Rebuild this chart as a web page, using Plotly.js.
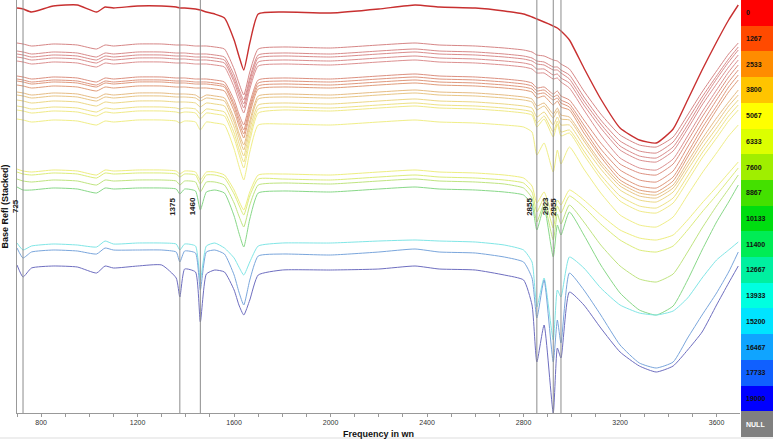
<!DOCTYPE html>
<html>
<head>
<meta charset="utf-8">
<script src="https://cdn.plot.ly/plotly-3.0.1.min.js"></script>
<style>body{margin:0;background:#fff}</style>
</head>
<body>
<div id="plotArea" style="width:773px;height:439px"></div>
<script>
// wavenumbers where the spectra were read
var wn = [700,725,760,850,950,1030,1065,1100,1200,1300,1360,1375,1395,1440,1460,1485,1520,1560,1600,1620,1640,1665,1700,1800,2000,2200,2350,2450,2600,2720,2800,2835,2855,2885,2923,2940,2955,2990,3050,3120,3200,3280,3350,3420,3480,3540,3600,3650,3690];

var s0 = [8,9,12,6,5,12,7,8,6,6,7,8,8,9,10,12,14,18,40,56,70,43,14,12,13,9,5,7,8,11,14,17,19,22,26,28,31,40,68,99,128,140,143,129,100,70,42,20,5];
var s1 = [43,44,46,44,45,49,45,46,44,44,45,45,45,46,46,46,47,49,69,83,95,72,49,47,48,45,43,45,46,48,50,52,55,56,60,61,64,69,91,114,135,145,147,137,115,92,71,54,43];
var s2 = [51,52,54,52,53,57,53,54,52,52,53,53,53,54,54,54,55,57,75,89,100,78,55,53,54,51,49,51,52,54,56,58,61,62,67,67,70,75,97,120,141,151,153,142,120,97,76,59,47];
var s3 = [54,55,57,55,56,60,56,57,55,55,56,56,56,57,57,57,58,60,79,92,104,81,58,56,57,54,52,54,55,57,59,61,64,65,70,70,73,79,101,124,146,156,158,147,125,101,79,62,50];
var s4 = [57,58,60,58,59,63,59,60,58,58,59,59,59,60,60,60,61,63,82,96,108,85,62,60,61,58,56,58,59,61,63,65,69,69,75,74,78,83,105,128,150,160,162,151,129,105,84,67,55];
var s5 = [61,62,64,62,63,67,63,64,62,62,63,63,63,64,64,64,65,67,87,101,113,89,66,64,65,62,60,62,63,65,67,69,73,73,79,78,82,88,110,135,158,168,170,159,136,112,90,72,60];
var s6 = [76,77,79,77,78,82,78,79,77,77,78,78,78,79,79,79,80,82,100,114,125,103,80,78,79,76,74,76,77,79,81,83,88,87,94,91,96,100,120,143,164,173,175,164,141,117,95,77,65];
var s7 = [79,80,82,80,81,85,81,82,80,80,81,81,81,82,82,82,83,85,104,118,130,107,83,81,82,79,77,79,80,82,84,86,91,90,97,95,100,104,125,149,170,180,182,171,147,123,100,82,70];
var s8 = [81,82,84,82,83,87,83,84,82,82,83,83,83,84,84,84,85,87,107,122,134,110,86,84,85,82,80,82,83,85,87,89,94,93,100,98,103,107,129,154,176,186,188,177,153,128,106,87,75];
var s9 = [85,86,88,86,87,91,87,88,86,86,87,87,87,88,88,88,89,91,111,126,138,114,89,87,88,85,83,85,86,88,90,92,98,96,105,101,107,110,133,157,180,190,192,181,157,133,110,92,80];
var s10 = [92,93,95,93,94,98,94,95,93,93,94,94,94,95,98,95,96,98,118,133,145,121,96,94,95,92,90,92,93,95,97,99,106,103,114,108,115,117,138,162,183,193,195,185,162,139,118,102,90];
var s11 = [95,96,98,96,97,101,97,98,96,96,97,97,97,98,101,98,99,101,122,137,150,125,99,97,98,95,93,95,96,98,100,102,110,106,118,111,119,120,141,165,186,196,198,188,166,143,123,106,95];
var s12 = [100,101,103,101,102,106,102,103,101,101,102,102,102,103,107,103,104,106,127,143,156,130,105,103,104,101,99,101,102,104,106,108,117,112,125,117,125,125,146,169,190,200,202,192,170,148,128,111,100];
var s13 = [106,107,109,107,108,112,108,109,107,107,108,109,108,109,114,109,110,112,133,149,162,136,109,107,108,105,103,105,106,108,110,112,123,116,132,121,132,130,151,175,196,206,208,198,176,153,133,116,105];
var s14 = [110,111,113,111,112,116,112,113,111,111,112,113,112,113,119,113,114,116,138,154,168,141,113,110,111,108,106,108,109,111,113,115,127,119,137,124,136,133,155,179,201,211,213,203,181,158,138,121,110];
var s15 = [119,120,122,120,121,125,121,122,120,120,121,123,121,122,130,122,123,125,149,166,180,152,125,124,125,122,120,122,123,125,127,132,155,143,172,150,164,147,169,193,215,225,227,217,195,173,153,136,125];
var s16 = [169,171,172,170,171,175,170,171,170,170,171,174,171,172,180,172,172,175,190,201,210,192,175,174,175,172,170,172,173,175,178,186,203,192,218,200,205,190,200,215,230,238,240,235,220,203,187,173,162];
var s17 = [172,174,175,173,174,178,173,174,173,173,174,177,174,175,184,175,175,178,194,205,215,196,179,179,180,177,175,177,178,180,183,192,212,198,228,206,213,196,207,224,240,250,252,246,230,212,195,180,168];
var s18 = [179,181,182,180,181,185,180,181,180,180,181,185,181,182,192,182,182,185,203,216,227,205,185,183,184,181,179,181,182,184,188,198,222,204,240,214,224,205,222,245,266,279,282,274,252,228,206,189,175];
var s19 = [187,190,190,188,189,193,188,189,188,188,189,194,189,191,210,192,190,193,216,233,247,219,193,191,192,189,187,189,190,192,195,205,230,207,257,225,235,212,235,265,293,310,315,306,280,250,222,202,185];
var s20 = [243,250,246,244,245,247,241,244,243,243,244,250,244,246,280,246,243,248,258,267,275,262,246,243,243,241,240,241,242,245,250,262,307,278,340,290,297,257,268,288,305,313,315,311,298,278,260,250,242];
var s21 = [248,258,252,250,251,254,248,250,250,250,252,262,251,253,290,252,250,254,275,292,305,280,256,254,255,252,249,252,253,257,262,278,318,280,362,320,343,273,290,315,345,363,368,362,338,315,293,272,252];
var s22 = [265,277,268,266,267,273,266,268,266,265,278,297,269,272,322,274,270,272,290,305,315,300,275,270,270,269,266,269,270,275,280,305,362,325,413,348,358,292,305,328,352,366,372,366,350,332,305,283,266];

var spectra = [s0,s1,s2,s3,s4,s5,s6,s7,s8,s9,s10,s11,s12,s13,s14,s15,s16,s17,s18,s19,s20,s21,s22];
var spectraColors = ['#c83030','#d68686','#d88a8a','#d98c8c','#da8e8e','#dc9090','#dc9080','#de947e','#df987c','#e09c7a',
  '#e6bc84','#e8c686','#ecd886','#eee286','#f0ea88','#f0ee88','#eeee80','#dcec7a','#bfe480','#88d888','#80e6e6','#7aa6dc','#6e6ec0'];

// marked bands
var peaks = [725, 1375, 1460, 2855, 2923, 2955];

// colour key on the right
var keyLabels = ['0','1267','2533','3800','5067','6333','7600','8867','10133','11400','12667','13933','15200','16467','17733','19000','NULL'];
var keyColors = ['#ff0000','#ff4a00','#ff8c00','#ffc400','#ffff00','#dcff00','#a0ee00','#44e000','#00dd10','#00ec55','#00f0a0','#00ffe0','#00e4ff','#10a4ff','#1060ff','#0000ff','#808080'];

var FONT = 'Liberation Sans, Arial, sans-serif';
var TOP = 413; // px height of the plot area, used to turn depths into stacked refl
function toRefl(d) { return (TOP - d) / 100; }

var data = spectra.map(function (s, i) {
  return {
    x: wn, y: s.map(toRefl), type: 'scatter', mode: 'lines',
    line: {color: spectraColors[i], width: i === 0 ? 1.4 : 1, shape: 'spline', smoothing: 0.5},
    hoverinfo: 'skip', showlegend: false
  };
});

data.push({
  type: 'heatmap', xaxis: 'x2', yaxis: 'y2',
  x: [0], y: keyLabels.map(function (l, i) { return i; }),
  z: keyLabels.map(function (l, i) { return [i]; }),
  zmin: 0, zmax: keyLabels.length - 1,
  colorscale: keyColors.map(function (c, i) { return [i / (keyColors.length - 1), c]; }),
  showscale: false, hoverinfo: 'skip'
});

var shapes = peaks.map(function (p) {
  return {type: 'line', xref: 'x', yref: 'y domain', x0: p, x1: p, y0: 0, y1: 1,
          line: {color: '#8c8c8c', width: 1}};
});
shapes.push({type: 'rect', xref: 'paper', yref: 'paper', x0: -0.03, x1: 1, y0: -0.01, y1: 0,
             fillcolor: '#eeeeee', line: {width: 0}, layer: 'below'});

var annotations = peaks.map(function (p) {
  return {xref: 'x', yref: 'y domain', x: p, y: 0.5, text: String(p), textangle: -90,
          xanchor: 'right', xshift: -1, showarrow: false,
          font: {family: FONT, size: 8, color: '#222', weight: 'bold'}};
});
keyLabels.forEach(function (l, i) {
  annotations.push({xref: 'x2', yref: 'y2', x: -0.4, y: i, text: l, xanchor: 'left', showarrow: false,
                    font: {family: FONT, size: 7, color: l === 'NULL' ? '#fff' : '#111', weight: 'bold'}});
});

var layout = {
  width: 773, height: 439,
  margin: {l: 17, r: 0, t: 0, b: 2},
  paper_bgcolor: '#fff', plot_bgcolor: '#fff',
  font: {family: FONT, size: 7, color: '#333'},
  xaxis: {
    domain: [0, 0.9563], range: [700, 3697],
    tick0: 0, dtick: 400, ticks: 'outside', ticklen: 3, tickcolor: '#999',
    minor: {dtick: 100, ticks: 'outside', ticklen: 3, tickcolor: '#999'},
    showline: true, linecolor: '#999', showgrid: false, zeroline: false,
    tickfont: {size: 7, color: '#333'},
    title: {text: 'Frequency in wn', font: {size: 9, color: '#111', weight: 'bold'}}
  },
  yaxis: {
    domain: [0.0549, 1], range: [0, TOP / 100],
    showline: true, linecolor: '#999', showticklabels: false, ticks: '',
    showgrid: false, zeroline: false,
    title: {text: 'Base Refl (Stacked)', font: {size: 9, color: '#111', weight: 'bold'}}
  },
  xaxis2: {domain: [0.9577, 1], range: [-0.5, 0.5], visible: false, anchor: 'y2'},
  yaxis2: {domain: [0, 1], range: [keyLabels.length - 0.5, -0.5], visible: false, anchor: 'x2'},
  shapes: shapes,
  annotations: annotations
};

Plotly.newPlot('plotArea', data, layout, {displayModeBar: false});
</script>
</body>
</html>
